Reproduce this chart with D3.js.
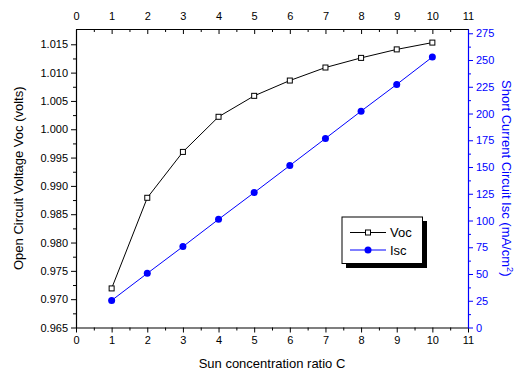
<!DOCTYPE html>
<html>
<head>
<meta charset="utf-8">
<script src="https://cdn.jsdelivr.net/npm/d3@7"></script>
<style>
  body { margin: 0; background: #fff; }
  svg { font-family: "Liberation Sans", Arial, sans-serif; }
</style>
</head>
<body>
<div id="chart"></div>
<script>
const ratio = [1, 2, 3, 4, 5, 6, 7, 8, 9, 10];
const voc = [0.9719, 0.9879, 0.9960, 1.0022, 1.0059, 1.0086, 1.0109, 1.0126, 1.0141, 1.0153];
const isc = [25.3, 50.6, 75.6, 101.1, 126.1, 151.4, 176.7, 202.2, 227.2, 252.8];
const xTicks = d3.range(0, 12);
const vocTicks = [0.965, 0.970, 0.975, 0.980, 0.985, 0.990, 0.995, 1.000, 1.005, 1.010, 1.015];
const iscTicks = d3.range(0, 276, 25);

const width = 520, height = 377;
const mLeft = 76, mRight = 468, mTop = 29, mBottom = 327.5;
const blue = '#0000ff';

const svg = d3.select('#chart').append('svg')
  .attr('width', width)
  .attr('height', height);

const x = d3.scaleLinear().domain([0, 11]).range([mLeft, mRight]);
const yV = d3.scaleLinear().domain([0.965, 1.0177]).range([mBottom, mTop]);
const yI = d3.scaleLinear().domain([0, 279]).range([mBottom, mTop]);

function styleAxis(g, color) {
  g.selectAll('path').attr('stroke', color).attr('stroke-width', 1.2);
  g.selectAll('line').attr('stroke', color);
  g.selectAll('text').attr('fill', color).style('font-size', '11px');
}

// minor ticks
const xMinor = d3.range(0.5, 11, 1);
const vMinor = d3.range(0, 10).map(i => 0.9675 + i * 0.005);
const iMinor = d3.range(12.5, 279, 25);

// bottom
const gx = svg.append('g').attr('transform', `translate(0,${mBottom})`)
  .call(d3.axisBottom(x).tickValues(xTicks).tickFormat(d3.format('d')).tickSize(5).tickPadding(4).tickSizeOuter(0));
styleAxis(gx, '#000');
svg.append('g').attr('transform', `translate(0,${mBottom})`)
  .call(d3.axisBottom(x).tickValues(xMinor).tickSize(3).tickFormat('').tickSizeOuter(0))
  .call(g => g.select('path').remove());

// top
const gt = svg.append('g').attr('transform', `translate(0,${mTop})`)
  .call(d3.axisTop(x).tickValues(xTicks).tickFormat(d3.format('d')).tickSizeInner(0).tickPadding(9).tickSizeOuter(0));
styleAxis(gt, '#000');
svg.append('g').attr('transform', `translate(0,${mTop})`)
  .call(d3.axisBottom(x).tickValues(xTicks).tickSize(5).tickFormat('').tickSizeOuter(0))
  .call(g => g.select('path').remove());
svg.append('g').attr('transform', `translate(0,${mTop})`)
  .call(d3.axisBottom(x).tickValues(xMinor).tickSize(3).tickFormat('').tickSizeOuter(0))
  .call(g => g.select('path').remove());

// left
const gl = svg.append('g').attr('transform', `translate(${mLeft},0)`)
  .call(d3.axisLeft(yV).tickValues(vocTicks).tickFormat(d3.format('.3f')).tickSize(5).tickPadding(3).tickSizeOuter(0));
styleAxis(gl, '#000');
svg.append('g').attr('transform', `translate(${mLeft},0)`)
  .call(d3.axisLeft(yV).tickValues(vMinor).tickSize(3).tickFormat('').tickSizeOuter(0))
  .call(g => g.select('path').remove());

// right
const gr = svg.append('g').attr('transform', `translate(${mRight},0)`)
  .call(d3.axisRight(yI).tickValues(iscTicks).tickSize(5).tickPadding(3).tickSizeOuter(0));
styleAxis(gr, blue);
svg.append('g').attr('transform', `translate(${mRight},0)`)
  .call(d3.axisRight(yI).tickValues(iMinor).tickSize(3).tickFormat('').tickSizeOuter(0))
  .call(g => g.select('path').remove())
  .selectAll('line').attr('stroke', blue);

// lines
const lineV = d3.line().x((d, i) => x(ratio[i])).y(d => yV(d));
const lineI = d3.line().x((d, i) => x(ratio[i])).y(d => yI(d));

svg.append('path').datum(voc).attr('d', lineV)
  .attr('fill', 'none').attr('stroke', '#000').attr('stroke-width', 1);
svg.append('path').datum(isc).attr('d', lineI)
  .attr('fill', 'none').attr('stroke', blue).attr('stroke-width', 1);

svg.selectAll('.sq').data(voc).enter().append('rect')
  .attr('x', (d, i) => x(ratio[i]) - 2.5)
  .attr('y', d => yV(d) - 2.5)
  .attr('width', 5).attr('height', 5)
  .attr('fill', '#fff').attr('stroke', '#000').attr('stroke-width', 1);

svg.selectAll('.dot').data(isc).enter().append('circle')
  .attr('cx', (d, i) => x(ratio[i]))
  .attr('cy', d => yI(d))
  .attr('r', 3.5)
  .attr('fill', blue);

// axis titles
svg.append('text')
  .attr('x', (mLeft + mRight) / 2).attr('y', 368)
  .attr('text-anchor', 'middle').style('font-size', '13px')
  .text('Sun concentration ratio C');

svg.append('text')
  .attr('transform', `translate(23,${(mTop + mBottom) / 2}) rotate(-90)`)
  .attr('text-anchor', 'middle').style('font-size', '13px')
  .text('Open Circuit Voltage Voc (volts)');

const rt = svg.append('text')
  .attr('transform', `translate(502,${(mTop + mBottom) / 2}) rotate(90)`)
  .attr('text-anchor', 'middle').style('font-size', '13px')
  .attr('fill', blue);
rt.append('tspan').text('Short Current Circuit Isc (mA/cm');
rt.append('tspan').attr('dy', -5).style('font-size', '9px').text('2');
rt.append('tspan').attr('dy', 5).text(')');

// legend
const lg = svg.append('g');
lg.append('rect').attr('x', 346).attr('y', 221).attr('width', 81).attr('height', 47).attr('fill', '#000');
lg.append('rect').attr('x', 342).attr('y', 217).attr('width', 80.5).attr('height', 46.5)
  .attr('fill', '#fff').attr('stroke', '#000').attr('stroke-width', 1);
const items = [
  { name: 'Voc', color: '#000', y: 232.5, mark: 'sq' },
  { name: 'Isc', color: blue, y: 250, mark: 'dot' }
];
items.forEach(it => {
  lg.append('line').attr('x1', 350).attr('x2', 386).attr('y1', it.y).attr('y2', it.y)
    .attr('stroke', it.color).attr('stroke-width', 1);
  if (it.mark === 'sq') {
    lg.append('rect').attr('x', 365.5).attr('y', it.y - 2.5).attr('width', 5).attr('height', 5)
      .attr('fill', '#fff').attr('stroke', '#000');
  } else {
    lg.append('circle').attr('cx', 368).attr('cy', it.y).attr('r', 3.5).attr('fill', blue);
  }
  lg.append('text').attr('x', 390).attr('y', it.y + 4.5).style('font-size', '13px').text(it.name);
});
</script>
</body>
</html>
